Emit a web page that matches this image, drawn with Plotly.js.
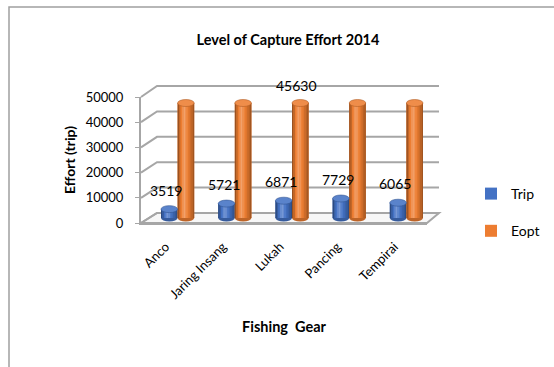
<!DOCTYPE html>
<html>
<head>
<meta charset="utf-8">
<script src="https://cdn.plot.ly/plotly-3.0.1.min.js"></script>
<style>
  html, body { margin: 0; padding: 0; background: #fff; }
  #chart { width: 554px; height: 367px; }
</style>
</head>
<body>
<div id="chart"></div>
<script>
// ---- data ----
const gears = ['Anco', 'Jaring Insang', 'Lukah', 'Pancing', 'Tempirai'];
const tripValues = [3519, 5721, 6871, 7729, 6065];
const eoptValues = [45630, 45630, 45630, 45630, 45630];
const eoptLabelled = [2];            // Eopt carries a single value label, on Lukah
const yTicks = [0, 10000, 20000, 30000, 40000, 50000];
const Y_MAX = 50000;

// ---- oblique 3-D box (pixel positions of each plane) ----
const W = 554, H = 367;
const FRONT = { x: [141, 427], y: [223, 97] };   // front face: carries the axes
const BACK  = { x: [157, 439], y: [213, 86] };   // back wall with gridlines
const MID   = { x: [149, 433], y: [218, 92] };   // depth at which the cylinders stand
const px = x => x / W;
const py = y => 1 - y / H;
// paper point on a plane: u = 0 (left edge) .. 1 (right edge), v = effort value
function pt(p, u, v) {
  return [px(p.x[0] + (p.x[1] - p.x[0]) * u), py(p.y[0] + (p.y[1] - p.y[0]) * v / Y_MAX)];
}
// depth shift of the cylinders, in front-axis units
const catPx = (FRONT.x[1] - FRONT.x[0]) / gears.length;
const valPx = (FRONT.y[0] - FRONT.y[1]) / Y_MAX;
const DEPTH_X = (MID.x[0] - FRONT.x[0]) / catPx;
const DEPTH_Y = (FRONT.y[0] - MID.y[0]) / valPx;

const GRID = '#a6a6a6';
const FONT = 'Lato, "Open Sans", "Liberation Sans", sans-serif';

// ---- cylinders ----
const BAR_W = 0.29;
const series = [
  { name: 'Trip', values: tripValues, offset: -BAR_W, rgb: [68, 114, 196] },
  { name: 'Eopt', values: eoptValues, offset: 0,      rgb: [237, 125, 49] }
];
const rgbStr = c => 'rgb(' + c.map(v => Math.round(Math.max(0, Math.min(255, v)))).join(',') + ')';
// lighten (k>0) or darken (k<0)
const shade = (c, k) => rgbStr(c.map(v => k >= 0 ? v + (255 - v) * k : v * (1 + k)));
// horizontal shading across a cylinder, left to right
const profile = [-0.35, -0.18, 0.0, 0.18, 0.28, 0.18, 0.05, -0.05, -0.14, -0.22, -0.32];

const traces = [];
const shapes = [];
series.forEach(s => {
  const base = {
    type: 'bar', x: gears, y: s.values, base: DEPTH_Y,
    hoverinfo: 'skip', legendgroup: s.name
  };
  const x0 = s.offset + DEPTH_X;
  traces.push(Object.assign({}, base, {
    name: s.name, offset: x0, width: BAR_W,
    marker: { color: rgbStr(s.rgb), line: { width: 0 } }, showlegend: true
  }));
  const sw = BAR_W / profile.length;
  profile.forEach((k, j) => {
    traces.push(Object.assign({}, base, {
      offset: x0 + j * sw, width: sw * 1.02,
      marker: { color: shade(s.rgb, k), line: { width: 0 } }, showlegend: false
    }));
  });
  s.values.forEach((v, i) => {
    // top cap
    shapes.push({
      type: 'circle', xref: 'x', yref: 'y', layer: 'above',
      x0: i + x0, x1: i + x0 + BAR_W,
      ysizemode: 'pixel', yanchor: DEPTH_Y + v, y0: -3.5, y1: 3.5,
      fillcolor: shade(s.rgb, 0.12), line: { color: shade(s.rgb, -0.25), width: 0.6 }
    });
    // rounded foot
    shapes.push({
      type: 'circle', xref: 'x', yref: 'y', layer: 'below',
      x0: i + x0, x1: i + x0 + BAR_W,
      ysizemode: 'pixel', yanchor: DEPTH_Y, y0: -3.5, y1: 3.5,
      fillcolor: shade(s.rgb, -0.2), line: { width: 0 }
    });
  });
});

// ---- walls: floor, back-wall and side-wall gridlines, outer frame ----
const poly = pts => 'M' + pts.map(p => p[0] + ',' + p[1]).join(' L') + ' Z';
shapes.push({
  type: 'path', xref: 'paper', yref: 'paper', layer: 'below',
  path: poly([pt(FRONT, 0, 0), pt(FRONT, 1, 0), pt(BACK, 1, 0), pt(BACK, 0, 0)]),
  fillcolor: '#f7f7f7', line: { color: GRID, width: 2 }
});
yTicks.forEach(v => {
  const a = pt(FRONT, 0, v), b = pt(BACK, 0, v), c = pt(BACK, 1, v);
  shapes.push({
    type: 'path', xref: 'paper', yref: 'paper', layer: 'below',
    path: 'M' + a.join(',') + ' L' + b.join(',') + ' L' + c.join(','),
    line: { color: GRID, width: 2 }
  });
});
shapes.push({
  type: 'rect', xref: 'paper', yref: 'paper', layer: 'below',
  x0: px(9), x1: 1.05, y0: -0.05, y1: py(7),
  line: { color: '#a0a0a0', width: 1.5 }, fillcolor: 'rgba(0,0,0,0)'
});

// ---- value labels ----
const annotations = [];
tripValues.forEach((v, i) => {
  annotations.push({
    xref: 'x', yref: 'y', x: i + DEPTH_X - BAR_W / 2 - 0.05, y: DEPTH_Y + v, yshift: 19,
    text: String(v), showarrow: false, xanchor: 'center', yanchor: 'middle',
    font: { size: 14, family: FONT }
  });
});
eoptLabelled.forEach(i => {
  annotations.push({
    xref: 'x', yref: 'y', x: i + DEPTH_X + BAR_W / 2 - 0.07, y: DEPTH_Y + eoptValues[i], yshift: 18,
    text: String(eoptValues[i]), showarrow: false, xanchor: 'center', yanchor: 'middle',
    font: { size: 14, family: FONT }
  });
});

const layout = {
  width: W, height: H,
  margin: { l: 0, r: 0, t: 0, b: 0 },
  paper_bgcolor: '#ffffff',
  plot_bgcolor: 'rgba(0,0,0,0)',
  font: { family: FONT, size: 13, color: '#000' },
  barmode: 'overlay',
  showlegend: true,
  title: {
    text: 'Level of Capture Effort 2014',
    x: px(288), y: py(40), xanchor: 'center', yanchor: 'middle',
    font: { size: 14.5, weight: 'bold', family: FONT }
  },
  xaxis: {
    domain: [px(FRONT.x[0]), px(FRONT.x[1])], anchor: 'y',
    type: 'category', categoryorder: 'array', categoryarray: gears, range: [-0.5, 4.5],
    tickangle: -45, tickfont: { size: 13 }, ticklabelshift: -4,
    ticks: 'outside', ticklen: 9, tickcolor: 'rgba(0,0,0,0)',
    showline: true, linecolor: GRID, linewidth: 2,
    showgrid: false, zeroline: false, fixedrange: true,
    title: { text: 'Fishing  Gear', font: { size: 14.5, weight: 'bold' }, standoff: 21 }
  },
  yaxis: {
    domain: [py(FRONT.y[0]), py(FRONT.y[1])], anchor: 'x', range: [0, Y_MAX],
    tickmode: 'array', tickvals: yTicks, tickformat: 'd', tickfont: { size: 13 },
    ticks: 'outside', ticklen: 4, tickcolor: GRID, ticklabelstandoff: 9,
    showline: true, linecolor: GRID, linewidth: 2,
    showgrid: false, zeroline: false, fixedrange: true,
    title: { text: 'Effort (trip)', font: { size: 14, weight: 'bold' }, standoff: 7 }
  },
  legend: {
    x: px(471), y: py(178), xanchor: 'left', yanchor: 'top',
    traceorder: 'grouped', tracegroupgap: 16,
    font: { size: 14 }, bgcolor: 'rgba(0,0,0,0)'
  },
  shapes: shapes,
  annotations: annotations
};

Plotly.newPlot('chart', traces, layout, { staticPlot: true, displayModeBar: false });
</script>
</body>
</html>
